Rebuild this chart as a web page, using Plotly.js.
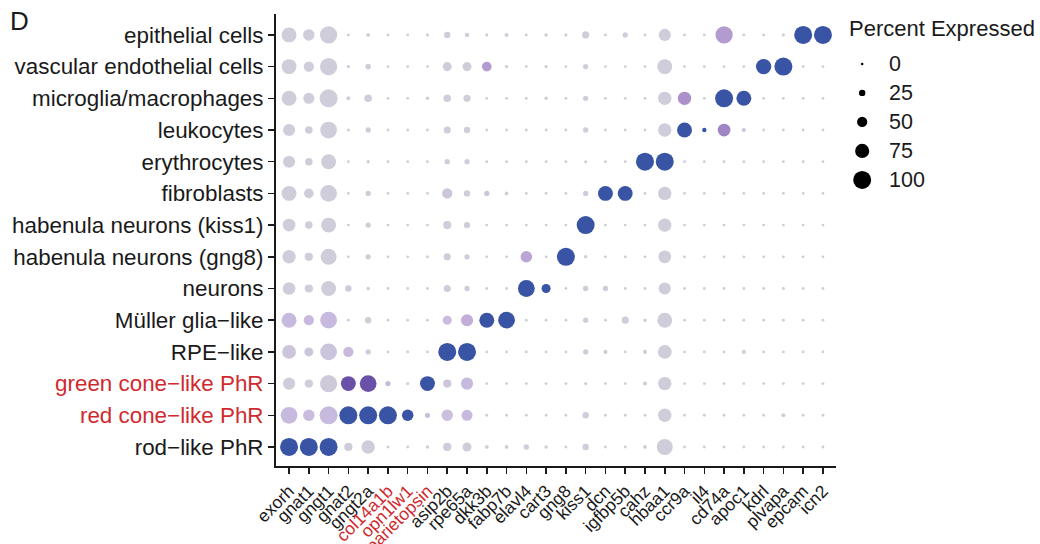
<!DOCTYPE html>
<html>
<head>
<meta charset="utf-8">
<script src="https://cdn.plot.ly/plotly-3.0.1.min.js"></script>
<style>html,body{margin:0;padding:0;background:#fff;}#chart{width:1040px;height:544px;}</style>
</head>
<body>
<div id="chart"></div>
<script>
// ---------- data ----------
const genes = ["exorh","gnat1","gngt1","gnat2","gngt2a","col14a1b","opn1lw1","parietopsin","asip2b","rpe65a","dkk3b","fabp7b","elavl4","cart3","gng8","kiss1","dcn","igfbp5b","cahz","hbaa1","ccr9a","il4","cd74a","apoc1","kdrl","plvapa","epcam","icn2"];
const redGenes = ["col14a1b","opn1lw1","parietopsin"];

// top to bottom
const cellTypes = ["epithelial cells","vascular endothelial cells","microglia/macrophages","leukocytes","erythrocytes","fibroblasts","habenula neurons (kiss1)","habenula neurons (gng8)","neurons","Müller glia−like","RPE−like","green cone−like PhR","red cone−like PhR","rod−like PhR"];
const redCells = ["green cone−like PhR","red cone−like PhR"];

// percent expressed, one array per cell type (columns follow genes)
const pctEpithelial = [80,58,95,2,8,2,2,4,25,12,4,10,2,6, 4,30,2,18,2,62,2,2,95,2,2,4,100,100];
const pctVascular   = [80,50,95,5,20,2,2,2,42,42,46,5,2,5, 2,18,2,2,2,80,2,2,2,2,83,100,2,2];
const pctMicroglia  = [80,55,100,10,33,2,2,6,33,30,2,2,2,6, 2,18,2,2,2,70,70,2,100,80,2,2,2,2];
const pctLeukocytes = [62,33,92,4,18,2,2,2,30,25,2,2,2,2, 2,18,2,2,2,70,80,12,66,10,2,2,2,2];
const pctErythro    = [62,33,80,2,6,2,2,2,18,18,2,2,2,2, 2,4,2,2,100,100,2,2,2,2,2,2,2,2];
const pctFibro      = [80,46,92,2,18,2,2,2,50,25,18,8,2,2, 2,18,80,80,2,70,2,2,2,2,2,2,2,2];
const pctHabKiss1   = [66,33,80,2,18,2,2,2,37,25,2,2,2,2, 2,100,2,2,2,70,2,2,2,2,2,2,2,2];
const pctHabGng8    = [70,37,87,2,18,2,2,4,30,18,2,2,58,2, 100,6,2,2,2,66,2,2,2,2,2,2,2,2];
const pctNeurons    = [66,37,80,25,6,2,2,2,30,18,2,2,92,42, 2,18,18,2,2,62,2,2,2,2,2,2,2,2];
const pctMuller     = [80,50,92,2,25,2,2,2,42,62,80,92,2,2, 2,18,2,30,6,80,2,2,2,2,2,2,2,2];
const pctRPE        = [73,42,92,50,18,2,2,2,100,100,2,2,2,2, 2,18,10,2,10,73,2,2,2,10,2,2,2,2];
const pctGreenCone  = [62,37,95,80,92,18,4,80,37,62,2,2,2,2, 2,4,2,2,10,70,2,2,2,2,2,2,2,2];
const pctRedCone    = [92,58,100,100,100,100,58,18,58,55,2,2,2,2, 2,25,2,2,2,70,2,2,2,2,2,10,2,2];
const pctRod        = [100,100,100,37,70,2,2,6,37,42,8,8,18,6, 2,25,2,2,8,87,2,2,2,2,2,2,2,2];

// scaled average expression (0..1), one array per cell type
const expEpithelial = [0,0,0,0,0,0,0,0,0,0,0,0,0,0, 0,0,0,0,0,0,0,0,0.45,0,0,0,1,1];
const expVascular   = [0,0,0,0,0,0,0,0,0,0,0.45,0,0,0, 0,0,0,0,0,0,0,0,0,0,1,1,0,0];
const expMicroglia  = [0,0,0,0,0,0,0,0,0,0,0,0,0,0, 0,0,0,0,0,0,0.5,0,1,1,0,0,0,0];
const expLeukocytes = [0,0,0,0,0,0,0,0,0,0,0,0,0,0, 0,0,0,0,0,0,1,1,0.55,0.1,0,0,0,0];
const expErythro    = [0,0,0,0,0,0,0,0,0,0,0,0,0,0, 0,0,0,0,1,1,0,0,0,0,0,0,0,0];
const expFibro      = [0,0,0,0,0,0,0,0,0.1,0,0.15,0,0,0, 0,0,1,1,0,0,0,0,0,0,0,0,0,0];
const expHabKiss1   = [0,0,0,0,0,0,0,0,0,0,0,0,0,0, 0,1,0,0,0,0,0,0,0,0,0,0,0,0];
const expHabGng8    = [0,0,0,0,0,0,0,0,0,0,0,0,0.4,0, 1,0,0,0,0,0,0,0,0,0,0,0,0,0];
const expNeurons    = [0,0,0,0.05,0,0,0,0,0,0,0,0,1,1, 0,0,0,0,0,0,0,0,0,0,0,0,0,0];
const expMuller     = [0.3,0.3,0.3,0,0,0,0,0,0.25,0.35,1,1,0,0, 0,0,0,0,0,0,0,0,0,0,0,0,0,0];
const expRPE        = [0.12,0.12,0.15,0.3,0,0,0,0,1,1,0,0,0,0, 0,0,0,0,0,0,0,0,0,0,0,0,0,0];
const expGreenCone  = [0,0,0.05,0.78,0.78,0.3,0,1,0.1,0.3,0,0,0,0, 0,0,0,0,0,0,0,0,0,0,0,0,0,0];
const expRedCone    = [0.3,0.25,0.28,1,1,1,1,0.2,0.2,0.3,0,0,0,0, 0,0,0,0,0,0,0,0,0,0,0,0,0,0];
const expRod        = [1,1,1,0,0,0,0,0,0,0,0,0,0,0, 0,0,0,0,0,0,0,0,0,0,0,0,0,0];

const pctRows = [pctEpithelial,pctVascular,pctMicroglia,pctLeukocytes,pctErythro,pctFibro,pctHabKiss1,pctHabGng8,pctNeurons,pctMuller,pctRPE,pctGreenCone,pctRedCone,pctRod];
const expRows = [expEpithelial,expVascular,expMicroglia,expLeukocytes,expErythro,expFibro,expHabKiss1,expHabGng8,expNeurons,expMuller,expRPE,expGreenCone,expRedCone,expRod];

const legendPct = [0,25,50,75,100];

// ---------- build ----------
const RED = "#cf2a30";
const TXT = "#1a1a1a";
function dotSize(p){ return 2.5 + 0.155*p; }

const xs=[], ys=[], sz=[], col=[];
cellTypes.forEach((ct,i)=>{
  genes.forEach((g,j)=>{
    xs.push(g); ys.push(ct);
    sz.push(dotSize(pctRows[i][j]));
    col.push(expRows[i][j]);
  });
});

const colorscale = [
  [0,   "#cfcdd9"],
  [0.3, "#c8b9df"],
  [0.5, "#ac90c9"],
  [0.78,"#6a50a7"],
  [1,   "#3953a5"]
];

const dots = {
  type:"scatter", mode:"markers", x:xs, y:ys,
  xaxis:"x", yaxis:"y",
  marker:{size:sz, sizemode:"diameter", opacity:1, color:col, colorscale:colorscale, cmin:0, cmax:1, showscale:false, line:{width:0}},
  hoverinfo:"skip", showlegend:false
};

const legendY = legendPct.map((p,i)=>i);
const legendDots = {
  type:"scatter", mode:"markers",
  x: legendPct.map(()=>17), y: legendY,
  xaxis:"x2", yaxis:"y2",
  marker:{size:legendPct.map(dotSize), opacity:1, color:"#000", line:{width:0}},
  hoverinfo:"skip", showlegend:false
};

const rowsBottomUp = cellTypes.slice().reverse();

const annotations = legendPct.map((p,i)=>({
  xref:"x2", yref:"y2", x:42, y:i, text:String(p), showarrow:false,
  xanchor:"left", yanchor:"middle", font:{size:21.5, color:TXT}
}));
annotations.push({xref:"paper", yref:"paper", x:0.748, y:0.969, text:"Percent Expressed", showarrow:false, xanchor:"left", yanchor:"middle", font:{size:22, color:TXT}});
annotations.push({xref:"paper", yref:"paper", x:-0.351, y:0.985, text:"D", showarrow:false, xanchor:"left", yanchor:"middle", font:{size:26, color:TXT}});

const layout = {
  width:1040, height:544,
  margin:{l:276, r:0, t:14, b:78, pad:0},
  paper_bgcolor:"#fff", plot_bgcolor:"#fff",
  font:{family:"Liberation Sans, Arial, sans-serif", color:TXT},
  hovermode:false,
  xaxis:{
    domain:[0, 560/764], type:"category",
    categoryorder:"array", categoryarray:genes,
    range:[-0.66, 27.66], showgrid:false, zeroline:false,
    showline:true, linecolor:"#1a1a1a", linewidth:2,
    ticks:"outside", ticklen:6, tickwidth:1.5, tickcolor:"#1a1a1a",
    tickangle:-45, tickfont:{size:17.5, color:TXT},
    tickmode:"array", tickvals:genes,
    ticktext:genes.map(g=> redGenes.includes(g) ? `<span style="color:${RED}">${g}</span>` : g),
    fixedrange:true
  },
  yaxis:{
    domain:[0,1], type:"category",
    categoryorder:"array", categoryarray:rowsBottomUp,
    range:[-0.6, 13.66], showgrid:false, zeroline:false,
    showline:true, linecolor:"#1a1a1a", linewidth:2,
    ticks:"outside", ticklen:6, tickwidth:1.5, tickcolor:"#1a1a1a",
    tickfont:{size:22.4, color:TXT},
    tickmode:"array", tickvals:rowsBottomUp,
    ticktext:rowsBottomUp.map(c=> redCells.includes(c) ? `<span style="color:${RED}">${c}</span>` : c),
    fixedrange:true
  },
  xaxis2:{domain:[0.745,1], anchor:"y2", range:[0,194.8], visible:false, fixedrange:true},
  yaxis2:{domain:[0,1], anchor:"x2", range:[13.86,-1.72], visible:false, fixedrange:true},
  annotations:annotations
};

Plotly.newPlot("chart",[dots, legendDots], layout, {displayModeBar:false, staticPlot:true});
</script>
</body>
</html>
